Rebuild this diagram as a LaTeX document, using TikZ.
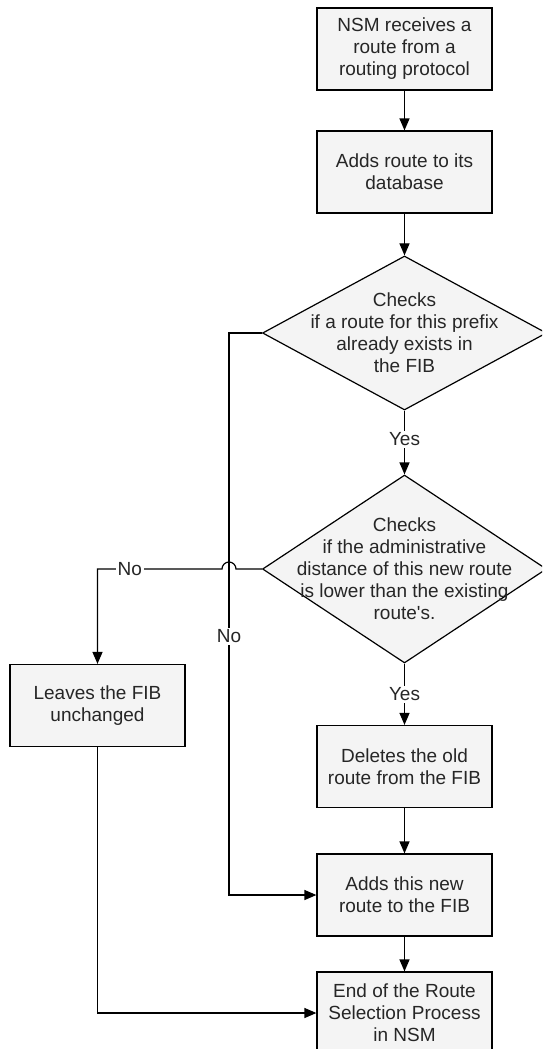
\documentclass[tikz,border=0pt]{standalone}
\usepackage{fontspec}
\setmainfont{Liberation Sans}
\usetikzlibrary{shapes.geometric,arrows.meta}
\definecolor{boxgray}{RGB}{244,244,244}
\begin{document}
\begin{tikzpicture}[x=0.5pt,y=-0.5pt,
  every node/.style={font=\fontsize{9.5}{11}\selectfont,text=black!85},
  stepbox/.style={draw,fill=boxgray,line width=0.6pt,minimum width=87.5pt,minimum height=41pt,align=center,inner sep=1pt},
  decision/.style={draw,fill=boxgray,line width=0.6pt,diamond,minimum width=142pt,minimum height=77pt,inner sep=0pt},
  dtext/.style={align=center,inner sep=0pt},
  lbl/.style={fill=white,inner sep=1pt},
  flow/.style={draw,line width=0.6pt,-{Triangle[width=5pt,length=6pt]}}]
\useasboundingbox (0,0) rectangle (542,1049);
\clip (0,0) rectangle (542,1049);
\node[stepbox] (recv) at (404.5,49) {NSM receives a\\route from a\\routing protocol};
\node[stepbox] (adddb) at (404.5,172) {Adds route to its\\database};
\node[decision] (chk1) at (404.5,333) {};
\node[dtext] (chk1t) at (chk1) {Checks\\if a route for this prefix\\already exists in\\the FIB};
\node[decision,minimum height=94pt] (chk2) at (404.5,569) {};
\node[dtext] (chk2t) at (chk2) {Checks\\if the administrative\\distance of this new route\\is lower than the existing\\route\textquotesingle s.};
\node[stepbox] (leaves) at (97.5,705.5) {Leaves the FIB\\unchanged};
\node[stepbox] (delfib) at (404.5,766.5) {Deletes the old\\route from the FIB};
\node[stepbox] (newfib) at (404.5,895) {Adds this new\\route to the FIB};
\node[stepbox] (endproc) at (404.5,1013) {End of the Route\\Selection Process\\in NSM};
\coordinate (lane) at (229,333);
\coordinate (hop) at (lane |- chk2.west);
% main line
\draw[flow] (recv) -- (adddb);
\draw[flow] (adddb) -- (chk1);
\draw[flow] (chk1) -- node[lbl,pos=0.45]{Yes} (chk2);
\draw[flow] (chk2) -- node[lbl]{Yes} (delfib);
\draw[flow] (delfib) -- (newfib);
\draw[flow] (newfib) -- (endproc);
% the two No branches
\draw[flow] (chk1.west) -- (lane) |- node[lbl,pos=0.27]{No} (newfib);
\draw[flow] (chk2.west) -- ([xshift=3.5pt]hop) arc[start angle=0,end angle=180,radius=3.5pt]
  -- node[lbl,pos=0.74]{No} (chk2.west -| leaves) -- (leaves);
\draw[flow] (leaves) |- (endproc);
\end{tikzpicture}
\end{document}
